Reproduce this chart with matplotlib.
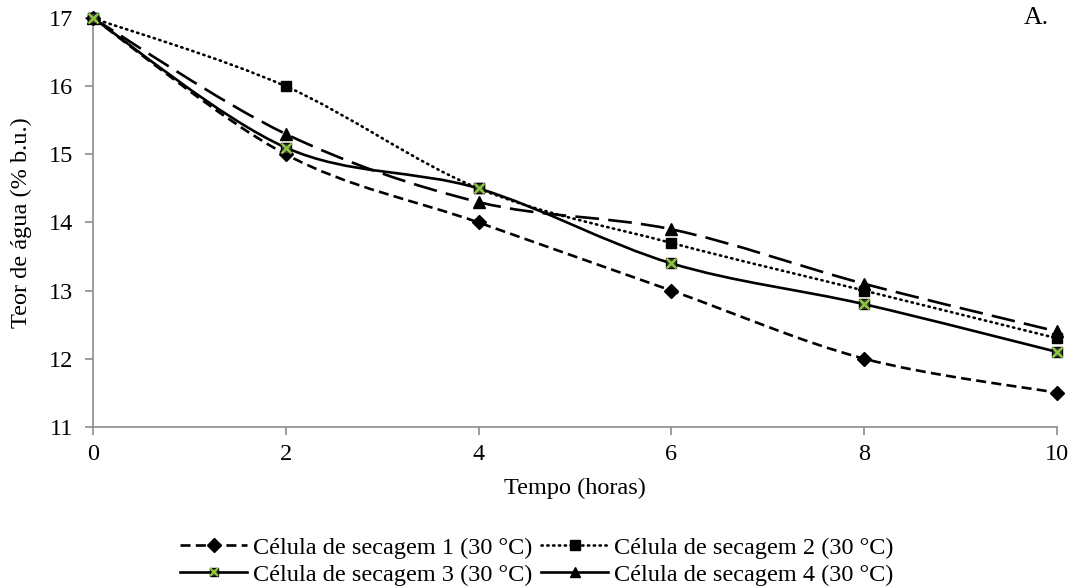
import matplotlib
matplotlib.use("Agg")
import matplotlib.pyplot as plt
from matplotlib.path import Path
from matplotlib.patches import PathPatch
from matplotlib.lines import Line2D
from matplotlib.legend_handler import HandlerTuple
import numpy as np

plt.rcParams['font.family'] = ['Liberation Serif', 'DejaVu Serif']

tempo = [0, 2, 4, 6, 8, 10]
cel1 = [17, 15.0, 14.0, 13.0, 12.0, 11.5]
cel2 = [17, 16.0, 14.5, 13.7, 13.0, 12.3]
cel3 = [17, 15.1, 14.5, 13.4, 12.8, 12.1]
cel4 = [17, 15.3, 14.3, 13.9, 13.1, 12.4]
labels = ["Célula de secagem 1 (30 °C)", "Célula de secagem 2 (30 °C)",
          "Célula de secagem 3 (30 °C)", "Célula de secagem 4 (30 °C)"]


def smooth_path(x, y):
    P = np.column_stack([x, y]).astype(float)
    n = len(P)
    verts = [P[0]]
    codes = [Path.MOVETO]
    for i in range(n - 1):
        p0 = P[i - 1] if i > 0 else P[i]
        p1 = P[i]
        p2 = P[i + 1]
        p3 = P[i + 2] if i + 2 < n else P[i + 1]
        c1 = p1 + (p2 - p0) / 6.0
        c2 = p2 - (p3 - p1) / 6.0
        verts += [c1, c2, p2]
        codes += [Path.CURVE4] * 3
    return Path(verts, codes)


FS = 17.5
fig = plt.figure(figsize=(10.74, 5.87), dpi=100)
ax = fig.add_axes([0.0866, 0.273, 0.8974, 0.696])

lw = 1.9
dash1 = (0, (3.8, 2.0))
dot2 = (0, (0.5, 1.7))
dash4 = (0, (9, 3.5))
series = [cel1, cel2, cel3, cel4]
lstyles = [dash1, dot2, '-', dash4]

for s, ls in zip(series, lstyles):
    patch = PathPatch(smooth_path(tempo, s), fill=False, edgecolor='black',
                      lw=lw, linestyle=ls, capstyle='round' if ls == dot2 else 'butt',
                      zorder=2)
    ax.add_patch(patch)

# markers
ax.plot(tempo, cel1, ls='none', marker='D', ms=7.5, color='black', zorder=3, clip_on=False)
ax.plot(tempo, cel2, ls='none', marker='s', ms=7.5, color='black', zorder=3, clip_on=False)
ax.plot(tempo, cel4, ls='none', marker='^', ms=8, color='black', zorder=3, clip_on=False)
ax.plot(tempo, cel3, ls='none', marker='s', ms=7.5, mfc='#3a3a3a', mec='black', zorder=4, clip_on=False)
ax.plot(tempo, cel3, ls='none', marker='x', ms=6.5, mew=1.8, color='#8cc63f', zorder=5, clip_on=False)

ax.set_xlim(0, 10)
ax.set_ylim(11, 17)
ax.set_xticks([0, 2, 4, 6, 8, 10])
ax.set_yticks([11, 12, 13, 14, 15, 16, 17])
for sp in ['top', 'right']:
    ax.spines[sp].set_visible(False)
for sp in ['left', 'bottom']:
    ax.spines[sp].set_color('#8c8c8c')
    ax.spines[sp].set_linewidth(1.2)
ax.tick_params(axis='both', direction='out', length=5.5, width=1.2, color='#8c8c8c',
               labelsize=FS, labelcolor='black')
ax.tick_params(axis='x', pad=7)
ax.tick_params(axis='y', pad=9)

ax.set_xlabel("Tempo (horas)", fontsize=FS, labelpad=9)
ax.set_ylabel("Teor de água (% b.u.)", fontsize=FS, labelpad=12)
ax.text(0.992, 1.0, "A.", transform=ax.transAxes, ha='right', va='center', fontsize=FS + 1)

# legend handles (Excel style), row-wise order
h1 = Line2D([], [], color='black', lw=lw, ls=dash1, marker='D', ms=7.5)
h2 = Line2D([], [], color='black', lw=lw, ls=dot2, marker='s', ms=6.5, dash_capstyle='round')
h3a = Line2D([], [], color='black', lw=lw, ls='-', marker='s', ms=6, mfc='#3a3a3a', mec='black')
h3b = Line2D([], [], ls='none', marker='x', ms=5.5, mew=1.6, color='#8cc63f')
h4 = Line2D([], [], color='black', lw=lw, ls='-', marker='^', ms=7)
handles = [h1, (h3a, h3b), h2, h4]
labs = [labels[0], labels[2], labels[1], labels[3]]
fig.legend(handles, labs, loc='lower center', ncol=2,
           bbox_to_anchor=(0.5, -0.035), frameon=False, fontsize=FS,
           handlelength=2.75, handletextpad=0.25, columnspacing=0.35,
           labelspacing=0.2, handler_map={tuple: HandlerTuple(ndivide=1, pad=0)})

fig.savefig("out.png", dpi=100)
